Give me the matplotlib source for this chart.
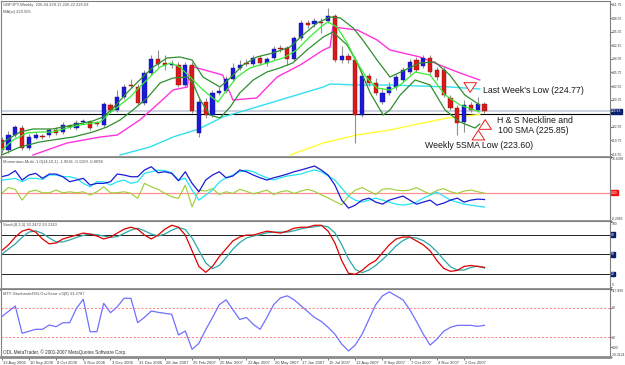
import matplotlib
matplotlib.use('Agg')
import matplotlib.pyplot as plt
import matplotlib.transforms as mtrans
import numpy as np

# weekly GBPJPY candles, bar 0 = 13 Aug 2006
opens = [219.85, 217.50, 221.02, 222.67, 217.97, 220.32, 220.79, 221.02, 222.20, 221.73,
         223.14, 222.67, 224.08, 224.08, 223.85, 223.38, 228.08, 226.91, 229.97, 232.79,
         232.32, 228.55, 235.61, 238.91, 237.97, 237.50, 237.50, 232.79, 237.50, 221.50,
         228.79, 225.73, 230.91, 231.38, 234.20, 236.79, 237.97, 237.73, 239.14, 237.97,
         239.14, 241.50, 241.50, 238.91, 243.85, 247.38, 247.14, 247.61, 247.85, 249.03,
         238.67, 239.61, 238.67, 225.73, 234.91, 233.26, 228.79, 230.91, 232.32, 233.97,
         235.85, 238.67, 237.26, 239.14, 236.32, 236.32, 229.73, 227.38, 224.08, 228.08,
         226.91, 228.32]
highs = [220.55, 221.97, 223.38, 223.38, 221.26, 221.73, 221.26, 222.67, 222.91, 224.08,
         223.61, 224.55, 224.79, 224.55, 224.32, 228.79, 228.55, 231.61, 233.03, 234.20,
         233.03, 236.32, 239.85, 241.03, 239.85, 238.67, 238.20, 238.20, 238.20, 229.50,
         229.73, 231.61, 232.32, 234.91, 237.97, 238.67, 238.91, 239.85, 239.85, 239.38,
         241.97, 242.20, 241.97, 244.32, 248.08, 248.08, 248.55, 248.55, 250.91, 249.50,
         241.97, 240.32, 239.38, 235.61, 235.61, 234.44, 232.08, 233.50, 235.38, 237.03,
         238.91, 239.38, 239.85, 239.85, 237.03, 237.03, 230.44, 228.08, 229.26, 228.79,
         229.97, 228.79]
lows = [216.79, 216.79, 220.55, 217.50, 217.50, 220.08, 220.08, 220.55, 221.02, 221.26,
        222.44, 222.20, 223.61, 222.20, 223.14, 222.91, 226.44, 226.44, 229.50, 232.08,
        228.08, 228.08, 235.14, 237.03, 236.32, 236.79, 232.32, 232.32, 226.20, 220.55,
        225.02, 225.26, 230.44, 230.91, 233.73, 236.32, 237.26, 237.26, 237.50, 237.26,
        238.67, 240.55, 237.50, 238.44, 243.38, 246.20, 246.44, 245.03, 247.38, 238.20,
        237.97, 237.97, 219.14, 225.26, 232.55, 230.44, 228.32, 230.44, 231.61, 233.50,
        235.38, 235.85, 236.79, 235.38, 233.97, 229.97, 226.91, 221.02, 221.73, 226.44,
        226.44, 226.20]
closes = [217.50, 221.02, 222.91, 217.97, 220.55, 221.02, 220.55, 222.20, 221.50, 223.38,
          222.91, 223.85, 224.32, 222.67, 223.61, 228.32, 226.91, 229.97, 232.32, 232.55,
          228.55, 235.61, 238.91, 237.73, 237.50, 237.73, 232.79, 237.50, 226.67, 228.79,
          225.73, 230.91, 231.38, 234.20, 236.79, 237.50, 237.73, 239.14, 237.97, 238.91,
          241.26, 241.26, 238.91, 243.85, 247.38, 246.91, 247.85, 247.38, 249.03, 238.67,
          239.61, 238.67, 225.73, 234.91, 233.26, 230.91, 230.91, 232.32, 234.67, 236.32,
          238.20, 236.32, 239.14, 235.85, 234.67, 230.44, 227.38, 223.85, 228.08, 226.91,
          228.32, 226.63]

# moving averages (week index, price)
ma5_x = [0, 1.7, 3.7, 5.6, 7.5, 9.6, 11.5, 13.4, 14.5, 15.9, 17.4, 18.9, 20.3, 21.8, 23.3,
         24.8, 26.2, 27.7, 29.6, 31.8, 33.1, 34.6, 36.5, 39.0, 41.4, 43.4, 45.3, 47.3, 48.0,
         49.3, 50.8, 52.3, 53.7, 55.2, 57.1, 58.6, 60.8, 63.0, 65.2, 67.4, 70.3]
ma5_y = [217.50, 219.85, 221.50, 221.73, 221.73, 222.67, 223.38, 223.85, 224.08, 226.20,
         228.08, 229.97, 232.32, 234.67, 237.03, 237.97, 237.03, 234.67, 231.61, 228.79,
         231.61, 234.67, 236.79, 237.97, 239.14, 241.03, 244.08, 246.91, 247.61, 246.44,
         242.67, 237.97, 234.44, 232.08, 231.61, 232.79, 235.85, 235.14, 230.44, 228.08,
         226.44]
hi5_x = [0, 2.7, 4.6, 7.5, 10.5, 13.4, 14.9, 16.4, 18.4, 20.3, 22.3, 24.3, 26.2, 28.0, 29.6,
         32.1, 33.6, 35.5, 37.5, 39.9, 42.4, 44.3, 46.4, 48.3, 49.8, 51.7, 53.1, 55.2, 57.1,
         59.3, 61.5, 63.7, 65.9, 68.1, 70.3]
hi5_y = [219.14, 221.73, 222.44, 222.44, 223.38, 224.32, 225.26, 227.38, 230.91, 233.97,
         237.03, 239.14, 239.38, 238.67, 234.67, 232.32, 234.44, 237.50, 239.38, 240.32,
         241.73, 244.55, 247.38, 248.79, 248.55, 246.20, 243.38, 238.67, 234.67, 236.32,
         237.97, 238.20, 235.14, 230.44, 228.08]
lo5_x = [0, 2.7, 5.6, 7.5, 10.5, 13.4, 15.5, 17.4, 19.3, 21.4, 23.3, 25.2, 27.3, 28.1, 29.2,
         30.6, 32.1, 33.6, 35.0, 37.0, 39.0, 40.9, 42.8, 44.9, 47.3, 48.7, 50.8, 52.3, 54.2,
         56.1, 57.1, 58.6, 60.8, 63.0, 65.2, 67.4, 69.6, 70.3]
lo5_y = [216.32, 218.20, 219.38, 219.85, 220.55, 221.73, 222.91, 224.55, 226.91, 229.73,
         233.26, 234.44, 234.67, 233.26, 229.26, 225.73, 225.02, 227.61, 230.91, 233.97,
         235.85, 236.79, 237.97, 241.03, 244.08, 245.26, 242.20, 237.97, 230.91, 225.73,
         226.91, 230.44, 233.97, 232.79, 226.91, 224.08, 222.67, 223.60]
mag_x = [4.6, 9.6, 14.5, 17.0, 20.3, 23.3, 25.2, 27.3, 27.7, 32.5, 34.0, 37.5, 40.5, 43.9,
         47.3, 48.3, 48.7, 52.3, 55.2, 57.1, 61.5, 65.5, 67.4, 70.3]
mag_y = [216.32, 219.14, 220.55, 221.02, 224.55, 228.79, 231.61, 232.32, 237.26, 235.14,
         229.26, 229.73, 234.67, 237.50, 241.03, 241.73, 246.44, 245.73, 243.38, 241.03,
         239.38, 236.79, 235.61, 233.97]
cyan_x = [17.4, 21.8, 25.2, 29.0, 32.5, 37.5, 42.4, 47.3, 48.3, 52.2, 57.1, 61.5, 65.9, 70.3]
cyan_y = [216.32, 218.20, 220.55, 222.44, 225.26, 227.61, 229.97, 232.32, 233.03, 232.79,
          232.79, 232.55, 232.32, 231.85]
sma100_x = [42.4, 47.3, 52.2, 57.1, 60.5, 65.5, 70.3]
sma100_y = [216.32, 219.14, 221.02, 222.20, 223.38, 225.02, 225.85]

# Momentum-Multi
mom_blue = [4.67, 5.16, 6.42, 3.70, 5.16, 5.65, 4.20, 5.45, 5.45, 4.67, 3.21, 3.70, 4.20, 2.25,
            2.74, 2.74, 3.21, 5.45, 5.16, 4.67, 4.67, 6.62, 7.58, 5.83, 6.12, 5.65, 3.50, 6.12,
            2.74, 0.29, 3.70, 5.16, 6.12, 4.37, 4.87, 6.62, 6.12, 5.16, 4.37, 3.70, 4.37, 4.87,
            5.45, 6.12, 6.62, 7.20, 7.78, 6.62, 5.16, 2.25, -2.13, -4.46, -3.59, -2.13, -1.55,
            -2.71, -3.30, -2.13, -1.55, -0.96, -2.13, -3.30, -2.71, -2.13, -3.59, -3.00, -2.13,
            -1.55, -2.71, -2.13, -1.84, -1.96]
mom_cyan = [3.70, 3.91, 4.20, 3.21, 4.20, 4.20, 3.91, 5.16, 5.16, 4.67, 4.67, 4.20, 2.74, 1.75,
            3.21, 3.21, 2.25, 3.21, 3.70, 2.74, 3.21, 5.65, 6.12, 6.62, 6.42, 5.83, 3.70, 4.20,
            0.79, -2.13, -0.67, 0.79, 3.12, 4.37, 5.16, 6.12, 6.62, 6.12, 5.16, 4.37, 3.70, 4.37,
            4.87, 5.16, 5.45, 6.12, 6.62, 6.12, 4.87, 3.70, 1.37, -0.96, -2.13, -2.71, -2.13,
            -1.55, -2.13, -2.71, -3.30, -3.59, -3.30, -2.71, -1.55, -0.67, 0.20, -0.96, -2.13,
            -2.71, -3.30, -3.59, -3.88, -4.17]
mom_olive = [-0.17, 1.57, 0.99, -2.13, 0.29, 0.79, 0.0, 0.0, 0.79, 0.0, 0.29, 0.0, 0.29, -0.67,
             0.29, 1.75, 0.0, 0.0, 0.29, -0.17, -1.63, 2.74, 1.75, 0.99, -0.17, -1.17, -1.63,
             2.25, -4.08, 0.79, 0.5, 1.2, -0.5, 0.3, -0.2, 1.0, 0.4, -0.3, 0.2, 0.8, -0.5, 0.3,
             0.6, -0.2, 0.5, 1.0, 0.4, -0.6, -1.5, -2.5, -3.5, -1.0, 0.8, 1.5, 0.5, -0.5, 1.0,
             1.2, 0.8, 0.6, 0.8, 1.5, 0.5, -0.4, 0.7, 1.2, 0.3, -0.2, 0.5, 0.8, 0.3, -0.11]

# Stochastic (8,3,3)
stoch_main = [55.5, 64.5, 76.5, 85.5, 88.5, 84, 73.5, 66, 67.5, 73.5, 76.5, 79.5, 82.5, 81, 78,
              73.5, 76.5, 82.5, 88.5, 91.5, 88.5, 79.5, 73.5, 79.5, 88.5, 94.5, 91.5, 79.5, 55.5,
              31.5, 22.5, 31.5, 46.5, 58.5, 70.5, 76.5, 79.5, 79.5, 82.5, 85.5, 84, 82.5, 85.5,
              90, 91.5, 91.5, 94.5, 94.5, 85.5, 67.5, 40.5, 21, 19.5, 25.5, 34.5, 40.5, 52.5,
              64.5, 73.5, 76.5, 76.5, 70.5, 64.5, 55.5, 40.5, 28.5, 24, 25.5, 31.5, 33, 31.5, 30.2]
stoch_sig = [50, 58, 66, 76, 84, 86, 82, 75, 69, 69, 72, 76, 79, 81, 80, 78, 76, 77, 82, 87,
             90, 86, 81, 78, 81, 87, 91, 88, 75, 56, 37, 28, 33, 45, 58, 68, 75, 78, 80, 83, 84,
             84, 84, 86, 89, 91, 92, 94, 92, 83, 65, 43, 27, 22, 26, 33, 42, 52, 63, 71, 76,
             75, 71, 64, 54, 42, 31, 26, 26, 30, 32, 29.1]

# MTF StochasticRSI oscillator
mtf_x = [0, 2, 3, 5, 6, 7, 8, 9, 10, 11, 12, 13, 14, 15, 16, 17, 18, 19, 20, 21, 22, 23, 25,
         26, 27, 28, 29, 30, 31, 32, 33, 34, 35, 36, 37, 38, 39, 40, 41, 42, 43, 44, 45, 46,
         47, 48, 49, 50, 51, 52, 53, 54, 55, 56, 57, 58, 59, 60, 61, 62, 63, 64, 65, 66, 67,
         68, 69, 70, 71]
mtf_y = [61.6, 83.3, 27.9, 36.0, 36.0, 44.7, 41.3, 49.4, 49.4, 78.7, 97.0, 31.1, 31.1, 88.8,
         69.7, 81.9, 99.0, 99.0, 49.4, 60.4, 73.2, 70.5, 66.5, 24.4, 32.5, -4.7, 7.5, 35, 60,
         86, 96, 76, 56, 60, 46, 36, 60, 86, 100, 104, 96, 84, 72, 60, 52, 40, 26, 6, -8, 4,
         26, 56, 86, 104, 112, 104, 96, 76, 52, 26, 4, 16, 32, 40, 44, 44, 44, 42, 44]

weeks = ['13 Aug 2006', '10 Sep 2006', '8 Oct 2006', '5 Nov 2006', '3 Dec 2006',
         '31 Dec 2006', '28 Jan 2007', '25 Feb 2007', '25 Mar 2007', '22 Apr 2007',
         '20 May 2007', '17 Jun 2007', '15 Jul 2007', '12 Aug 2007', '9 Sep 2007',
         '7 Oct 2007', '4 Nov 2007', '2 Dec 2007']
price_ticks = [216.55, 219.75, 222.95, 229.35, 232.55, 235.75, 238.95, 242.15, 245.35,
               248.55, 251.75]
last_price = 226.63
neckline = 225.85

W, H = 625, 365
RIGHT = 609.5
SMALL = 2.4
plt.rcParams['font.family'] = ['Liberation Sans', 'DejaVu Sans']
fig = plt.figure(figsize=(W / 100, H / 100), dpi=100)
fig.patch.set_facecolor('white')


def panel(top, bottom):
    ax = fig.add_axes([1 / W, 1 - bottom / H, (RIGHT - 1) / W, (bottom - top) / H])
    ax.set_xlim(-0.1, (RIGHT - 1.7) / 6.8)
    ax.set_xticks([])
    ax.yaxis.tick_right()
    ax.tick_params(axis='y', length=1.2, width=0.5, labelsize=SMALL, pad=0.6,
                   colors='#404040', direction='out')
    for s in ax.spines.values():
        s.set_color('#808080')
        s.set_linewidth(0.8)
    ax.spines['bottom'].set_linewidth(2)
    ax.spines['bottom'].set_color('#8c8c8c')
    return ax


def tag(ax, y, s, bg, fg='white'):
    ax.text(1.003, y, s, transform=ax.get_yaxis_transform(), fontsize=SMALL, color=fg,
            va='center', ha='left', bbox=dict(boxstyle='square,pad=0.12', fc=bg, ec=bg))


lbl = dict(fontsize=3.0, color='#505050', ha='left', va='top')

# ---- main price panel ----
ax = panel(1, 157)
ax.set_ylim(215.85, 252.55)
ax.set_yticks(price_ticks)
ax.set_yticklabels(['%.2f' % v for v in price_ticks])
x = np.arange(len(opens))
ax.axhline(last_price, color='#c3c9dc', lw=1.2, zorder=1)
ax.axhline(neckline, color='black', lw=0.8, zorder=1)
ax.plot(sma100_x, sma100_y, color='#ffff33', lw=1, zorder=2)
ax.plot(cyan_x, cyan_y, color='#33e0f0', lw=1, zorder=2)
ax.plot(mag_x, mag_y, color='#ff33dd', lw=1, zorder=2)
ax.vlines(x, lows, highs, color='#909090', lw=0.8, zorder=3)
up = np.array(closes) >= np.array(opens)
ax.bar(x, np.array(closes) - np.array(opens), bottom=opens, width=0.6,
       color=np.where(up, '#1a1ad8', '#d81a1a'), edgecolor=np.where(up, '#101090', '#901010'),
       linewidth=0.3, zorder=4)
ax.plot(hi5_x, hi5_y, color='#2f8f2f', lw=0.9, zorder=5)
ax.plot(lo5_x, lo5_y, color='#2f8f2f', lw=0.9, zorder=5)
ax.plot(ma5_x, ma5_y, color='#33ee33', lw=0.9, zorder=5)
tag(ax, last_price, '%.2f' % last_price, '#0a1f6e')
ax.text(0.004, 0.985, 'GBPJPY,Weekly  226.44 229.11 226.22 226.63', transform=ax.transAxes, **lbl)
ax.text(0.004, 0.945, 'MA(w) 223.555', transform=ax.transAxes, **lbl)

# hollow red arrows pointing at the levels
arrow = dict(arrowstyle='simple,head_width=0.9,head_length=0.7,tail_width=0.4',
             fc='white', ec='#ee2020', lw=0.7)
ax.annotate('', xy=(68.9, 230.4), xytext=(68.9, 233.6), arrowprops=arrow, zorder=6)
ax.annotate('', xy=(71.1, 225.3), xytext=(71.1, 222.6), arrowprops=arrow, zorder=6)
ax.annotate('', xy=(70.1, 222.8), xytext=(70.1, 220.2), arrowprops=arrow, zorder=6)
nf = dict(fontsize=6.3, color='#1a1a1a')
ax.text(70.8, 231.6, "Last Week's Low (224.77)", va='center', ha='left', **nf)
ax.text(72.8, 224.4, 'H & S Neckline and', va='center', ha='left', **nf)
ax.text(73.0, 222.1, '100 SMA (225.85)', va='center', ha='left', **nf)
ax.text(62.2, 218.6, 'Weekly 5SMA Low (223.60)', va='center', ha='left', **nf)

# ---- momentum ----
am = panel(157, 221)
am.set_ylim(-8.2066, 10.4088)
am.set_yticks([-8.2066, 10.4088])
am.set_yticklabels(['-8.2066', '10.4088'])
am.get_yticklabels()[0].set_va('bottom')
am.get_yticklabels()[-1].set_va('top')
am.axhline(0, color='#ff9090', lw=0.9)
am.plot(x, mom_olive, color='#9acd32', lw=0.8)
am.plot(x, mom_cyan, color='#22e5f5', lw=0.9)
am.plot(x, mom_blue, color='#1a1ad8', lw=0.9)
tag(am, 0, '0.00', '#ee1111')
am.text(0.004, 0.96, 'Momentum-Multi -1.0(14,10,1) -1.9641 -0.1109 -0.8098',
        transform=am.transAxes, **lbl)

# ---- stochastic ----
ast = panel(221, 289)
ast.set_ylim(-3, 101)
ast.set_yticks([0, 100])
ast.set_yticklabels(['0', '100'])
ast.get_yticklabels()[0].set_va('bottom')
ast.get_yticklabels()[-1].set_va('top')
for lev in (80, 50, 20):
    ast.axhline(lev, color='#202020', lw=0.7)
    tag(ast, lev, str(lev), '#0a1f6e')
ast.plot(x, stoch_sig, color='#2aa8a8', lw=0.9)
ast.plot(x, stoch_main, color='#e00000', lw=0.9)
ast.text(0.004, 0.97, 'Stoch(8,3,3) 30.2472 29.1310', transform=ast.transAxes, **lbl)

# ---- MTF stoch RSI ----
amt = panel(289, 357)
amt.set_ylim(-20.3124, 117.899)
amt.set_yticks([-20.3124, 0, 20, 80, 117.899])
amt.set_yticklabels(['-20.3124', '0.00', '20', '80', '117.899'])
amt.get_yticklabels()[0].set_va('bottom')
amt.get_yticklabels()[-1].set_va('top')
for lev in (80, 20):
    amt.axhline(lev, color='#ff8080', lw=0.7, ls=(0, (2, 2)))
amt.plot(mtf_x, mtf_y, color='#7070ff', lw=0.9)
amt.text(0.004, 0.96, 'MTF-StochasticRSI-Oscillator v.0(8) 33.2787',
         transform=amt.transAxes, **lbl)
amt.text(0.004, 0.03, 'ODL MetaTrader, \u00a9 2001-2007 MetaQuotes Software Corp.',
         transform=amt.transAxes, fontsize=3.3, color='#303030', ha='left', va='bottom')

# date axis
amt.set_xticks(np.arange(0, 4 * len(weeks), 4))
amt.set_xticklabels(weeks, ha='left')
amt.tick_params(axis='x', length=2.5, width=0.5, labelsize=3.0, pad=0.6, colors='#404040')
off = mtrans.ScaledTranslation(1.2 / 100, 0, fig.dpi_scale_trans)
for t in amt.get_xticklabels():
    t.set_transform(t.get_transform() + off)

fig.savefig('out.png', dpi=100)
